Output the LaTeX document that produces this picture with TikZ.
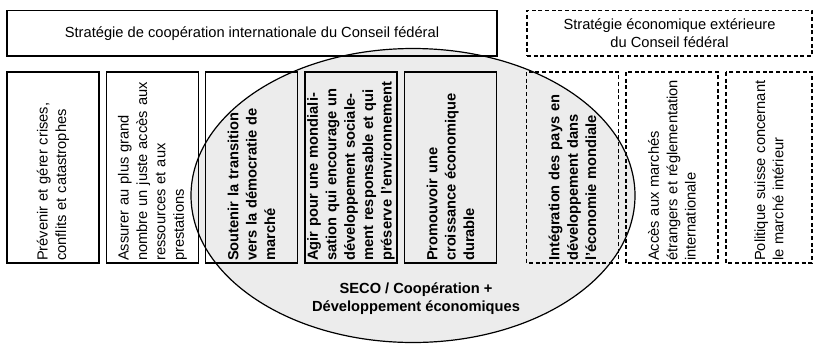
\documentclass[tikz,border=0pt]{standalone}
\usepackage{fontspec}
\setmainfont{Liberation Sans}

\tikzset{
  framebox/.style={draw, line width=1.1pt, inner sep=2pt,
    font=\fontsize{11}{13.8}\selectfont},
  extframe/.style={framebox, dash pattern=on 3pt off 2pt},
  goalbox/.style={framebox, rotate=90, minimum width=143.25pt,
    minimum height=69pt, text width=140pt, align=left,
    inner xsep=1.6pt, inner ysep=0.5pt},
  goalbold/.style={goalbox, font=\fontsize{11}{13.8}\selectfont\bfseries},
  extgoal/.style={goalbox, dash pattern=on 3pt off 2pt},
  extbold/.style={goalbold, dash pattern=on 3pt off 2pt},
}

\begin{document}
\begin{tikzpicture}[x=0.75pt,y=-0.75pt]
  \useasboundingbox (0,0) rectangle (813,343);

  %% SECO area, behind the boxes
  \fill[gray!15] (413,195.5) ellipse [x radius=166.5pt, y radius=110.25pt];

  %% strategies
  \node[framebox, minimum width=367.5pt, minimum height=34.1pt] (coop)
    at (252,33.25) {Stratégie de coopération internationale du Conseil fédéral};
  \node[extframe, minimum width=213.75pt, minimum height=34.1pt, align=center] (ecoext)
    at (669.5,33.25) {Stratégie économique extérieure\\du Conseil fédéral};

  %% goals
  \node[goalbox] (crises) at (53,167.5)
    {Prévenir et gérer crises,\\conflits et catastrophes};
  \node[goalbox] (acces) at (152.5,167.5)
    {Assurer au plus grand\\nombre un juste accès aux\\ressources et aux\\prestations};
  \node[goalbold] (transition) at (251.5,167.5)
    {Soutenir la transition\\vers la démocratie de\\marché};
  \node[goalbold] (mondial) at (351,167.5)
    {Agir pour une mondiali-\\sation qui encourage un\\développement sociale-\\ment responsable et qui\\préserve l'environnement};
  \node[goalbold] (croissance) at (450.5,167.5)
    {Promouvoir une\\croissance économique\\durable};

  \node[extbold] (integration) at (572.5,167.5)
    {Intégration des pays en\\développement dans\\l'économie mondiale};
  \node[extgoal] (marches) at (672,167.5)
    {Accès aux marchés\\étrangers et réglementation\\internationale};
  \node[extgoal, minimum height=64.5pt] (interieur) at (769,167.5)
    {Politique suisse concernant\\le marché intérieur};

  %% SECO outline and label
  \draw[line width=0.9pt] (413,195.5) ellipse [x radius=166.5pt, y radius=110.25pt];
  \node[font=\fontsize{11}{13.2}\selectfont\bfseries, align=center] (seco) at (416,298.5)
    {SECO / Coopération +\\Développement économiques};

\end{tikzpicture}
\end{document}
